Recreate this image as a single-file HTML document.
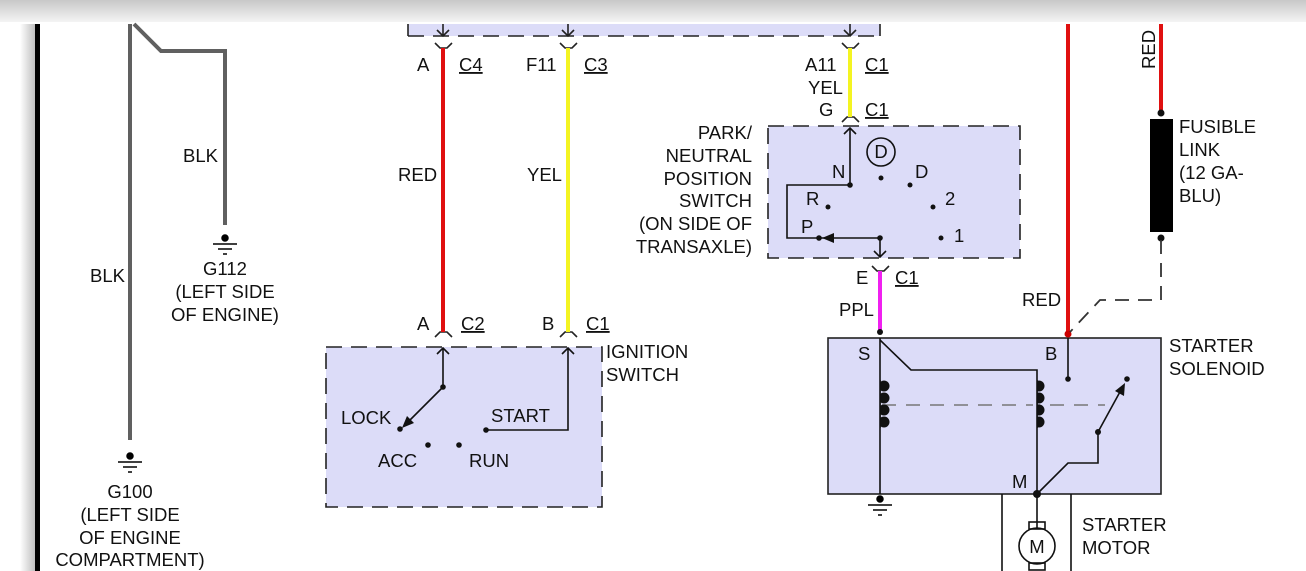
<!DOCTYPE html>
<html><head><meta charset="utf-8"><style>
body{margin:0;width:1306px;height:571px;overflow:hidden;background:#fff}
svg{display:block}
text{font-family:"Liberation Sans",Arial,sans-serif;font-size:18.5px;fill:#111}
</style></head><body>
<svg width="1306" height="571" viewBox="0 0 1306 571">
<defs>
<linearGradient id="tb" x1="0" y1="0" x2="0" y2="1"><stop offset="0" stop-color="#c8c8c8"/><stop offset="1" stop-color="#f4f4f4"/></linearGradient>
<linearGradient id="sh" x1="0" y1="0" x2="1" y2="0"><stop offset="0" stop-color="#fff"/><stop offset="1" stop-color="#bbb"/></linearGradient>
</defs>
<rect x="0" y="0" width="1306" height="22" fill="url(#tb)"/>
<rect x="20" y="24" width="16" height="547" fill="url(#sh)"/>
<rect x="35" y="24" width="5" height="547" fill="#000"/>

<g stroke="#606060" stroke-width="4" fill="none">
<polyline points="130,24 130,440"/>
<polyline points="134,24 161,51 225,51 225,225"/>
</g>
<g stroke="#000" stroke-width="1.5" fill="#000">
<circle cx="225" cy="238" r="3"/><line x1="213" y1="244" x2="237" y2="244"/><line x1="218" y1="249" x2="232" y2="249"/><line x1="223" y1="254" x2="227" y2="254"/>
<circle cx="130" cy="456" r="3"/><line x1="118" y1="462" x2="142" y2="462"/><line x1="123" y1="467" x2="137" y2="467"/><line x1="128" y1="472" x2="132" y2="472"/>
<circle cx="880" cy="499" r="3"/><line x1="868" y1="505" x2="892" y2="505"/><line x1="873" y1="510" x2="887" y2="510"/><line x1="878" y1="515" x2="882" y2="515"/>
</g>
<text x="183" y="162">BLK</text>
<text x="90" y="282">BLK</text>
<text x="225" y="275" text-anchor="middle">G112</text>
<text x="225" y="298" text-anchor="middle">(LEFT SIDE</text>
<text x="225" y="321" text-anchor="middle">OF ENGINE)</text>
<text x="130" y="498" text-anchor="middle">G100</text>
<text x="130" y="521" text-anchor="middle">(LEFT SIDE</text>
<text x="130" y="544" text-anchor="middle">OF ENGINE</text>
<text x="130" y="566" text-anchor="middle">COMPARTMENT)</text>

<rect x="408" y="24" width="472" height="12" fill="#dcdcf8"/>
<g stroke="#222" stroke-width="1.6" fill="none">
<line x1="408" y1="36" x2="880" y2="36" stroke-dasharray="16,9"/>
<line x1="408" y1="24" x2="408" y2="36"/><line x1="880" y1="24" x2="880" y2="36"/>
<path d="M443 24V36M437 30L443 36L449 30"/>
<path d="M568 24V36M562 30L568 36L574 30"/>
<path d="M850 24V36M844 30L850 36L856 30"/>
<path d="M435 43L440 48H447L452 43"/>
<path d="M560 43L565 48H572L577 43"/>
<path d="M842 43L847 48H854L859 43"/>
<path d="M842 122L847 117H854L859 122"/>
<path d="M435 337L440 332H447L452 337"/>
<path d="M560 337L565 332H572L577 337"/>
<path d="M872 266L877 271H884L889 266"/>
</g>
<line x1="443" y1="48" x2="443" y2="332" stroke="#e01010" stroke-width="4"/>
<line x1="568" y1="48" x2="568" y2="332" stroke="#f4f422" stroke-width="4"/>
<line x1="850" y1="48" x2="850" y2="117" stroke="#f4f422" stroke-width="4"/>
<line x1="880" y1="271" x2="880" y2="332" stroke="#f020f0" stroke-width="4"/>
<circle cx="880" cy="332" r="3" fill="#111"/>
<text x="417" y="71">A</text><text x="459" y="71" text-decoration="underline">C4</text>
<text x="526" y="71">F11</text><text x="584" y="71" text-decoration="underline">C3</text>
<text x="805" y="71">A11</text><text x="865" y="71" text-decoration="underline">C1</text>
<text x="808" y="94">YEL</text>
<text x="819" y="116">G</text><text x="865" y="116" text-decoration="underline">C1</text>
<text x="398" y="181">RED</text><text x="527" y="181">YEL</text>
<text x="417" y="330">A</text><text x="461" y="330" text-decoration="underline">C2</text>
<text x="542" y="330">B</text><text x="586" y="330" text-decoration="underline">C1</text>
<text x="856" y="284">E</text><text x="895" y="284" text-decoration="underline">C1</text>
<text x="839" y="316">PPL</text>

<rect x="326" y="347" width="276" height="160" fill="#dcdcf8" stroke="#222" stroke-width="1.6" stroke-dasharray="16,9"/>
<g stroke="#111" stroke-width="1.6" fill="none">
<path d="M443 348V387M437 354L443 348L449 354"/>
<path d="M568 348V430H486M562 354L568 348L574 354"/>
<line x1="443" y1="387" x2="404" y2="426"/>
</g>
<polygon points="402,428 407,416 414,423" fill="#111"/>
<g fill="#111"><circle cx="443" cy="387" r="2.8"/><circle cx="400" cy="429" r="2.8"/><circle cx="428" cy="445" r="2.8"/><circle cx="459" cy="445" r="2.8"/><circle cx="486" cy="430" r="2.8"/></g>
<text x="341" y="424">LOCK</text><text x="491" y="422">START</text>
<text x="378" y="467">ACC</text><text x="469" y="467">RUN</text>
<text x="606" y="358">IGNITION</text><text x="606" y="381">SWITCH</text>

<rect x="768" y="126" width="252" height="132" fill="#dcdcf8" stroke="#222" stroke-width="1.6" stroke-dasharray="16,9"/>
<g stroke="#111" stroke-width="1.6" fill="none">
<path d="M850 185V128M844 134L850 128L856 134"/>
<path d="M850 185H787V238H880"/>
<path d="M880 238V257M874 251L880 257L886 251"/>
<circle cx="881" cy="152" r="14"/>
</g>
<polygon points="822,238 834,233 834,243" fill="#111"/>
<g fill="#111"><circle cx="850" cy="185" r="2.8"/><circle cx="819" cy="238" r="2.8"/><circle cx="880" cy="238" r="2.8"/><circle cx="881" cy="178" r="2.5"/><circle cx="910" cy="185" r="2.5"/><circle cx="933" cy="207" r="2.5"/><circle cx="941" cy="238" r="2.5"/><circle cx="828" cy="207" r="2.5"/></g>
<text x="881" y="158" text-anchor="middle">D</text>
<text x="832" y="178">N</text><text x="915" y="178">D</text><text x="806" y="205">R</text><text x="945" y="205">2</text><text x="801" y="233">P</text><text x="954" y="242">1</text>
<g text-anchor="end">
<text x="752" y="139">PARK/</text><text x="752" y="162">NEUTRAL</text><text x="752" y="185">POSITION</text><text x="752" y="207">SWITCH</text><text x="752" y="230">(ON SIDE OF</text><text x="752" y="253">TRANSAXLE)</text>
</g>

<rect x="828" y="338" width="333" height="156" fill="#dcdcf8" stroke="#222" stroke-width="1.6"/>
<line x1="882" y1="405" x2="1105" y2="405" stroke="#777" stroke-width="1.6" stroke-dasharray="14,10"/>
<g stroke="#111" stroke-width="1.6" fill="none">
<path d="M880 338V494"/>
<path d="M880 340L911 370H1037V494"/>
<path d="M1068 338V379"/>
<path d="M1098 432V463H1068L1037 494"/>
<line x1="1098" y1="432" x2="1121" y2="390"/>
<path d="M1002 494V571M1071 494V571M1037 494V528"/>
<circle cx="1037" cy="546" r="18"/>
<rect x="1029" y="522" width="16" height="7"/>
<rect x="1029" y="563" width="16" height="7"/>
</g>
<polygon points="1125,383 1124,396 1115,391" fill="#111"/>
<g fill="#111">
<circle cx="884" cy="386" r="5.5"/><circle cx="884" cy="398" r="5.5"/><circle cx="884" cy="410" r="5.5"/><circle cx="884" cy="422" r="5.5"/>
<circle cx="1039" cy="386" r="5.5"/><circle cx="1039" cy="398" r="5.5"/><circle cx="1039" cy="410" r="5.5"/><circle cx="1039" cy="422" r="5.5"/>
<circle cx="1068" cy="379" r="2.8"/><circle cx="1127" cy="379" r="2.8"/><circle cx="1098" cy="432" r="3"/><circle cx="1037" cy="494" r="4"/>
</g>
<rect x="876" y="380" width="4" height="48" fill="#dcdcf8"/>
<rect x="1033" y="380" width="4" height="48" fill="#dcdcf8"/>
<line x1="880" y1="380" x2="880" y2="428" stroke="#111" stroke-width="1.6"/>
<line x1="1037" y1="380" x2="1037" y2="428" stroke="#111" stroke-width="1.6"/>
<text x="858" y="360">S</text><text x="1045" y="360">B</text><text x="1012" y="488">M</text>
<text x="1037" y="553" text-anchor="middle">M</text>
<text x="1169" y="352">STARTER</text><text x="1169" y="375">SOLENOID</text>
<text x="1082" y="531">STARTER</text><text x="1082" y="554">MOTOR</text>

<line x1="1068" y1="24" x2="1068" y2="336" stroke="#e01010" stroke-width="4"/>
<circle cx="1068" cy="334" r="3.5" fill="#c00"/>
<line x1="1161" y1="24" x2="1161" y2="112" stroke="#e01010" stroke-width="4"/>
<circle cx="1161" cy="113" r="3.5" fill="#111"/>
<rect x="1150" y="119" width="23" height="113" fill="#000"/>
<circle cx="1161" cy="238" r="3.5" fill="#111"/>
<path d="M1161 240V300H1100L1070 332" stroke="#333" stroke-width="1.8" fill="none" stroke-dasharray="14,9"/>
<text x="1022" y="306">RED</text>
<text transform="translate(1155,69) rotate(-90)">RED</text>
<text x="1179" y="133">FUSIBLE</text><text x="1179" y="156">LINK</text><text x="1179" y="179">(12 GA-</text><text x="1179" y="202">BLU)</text>
</svg>
</body></html>
